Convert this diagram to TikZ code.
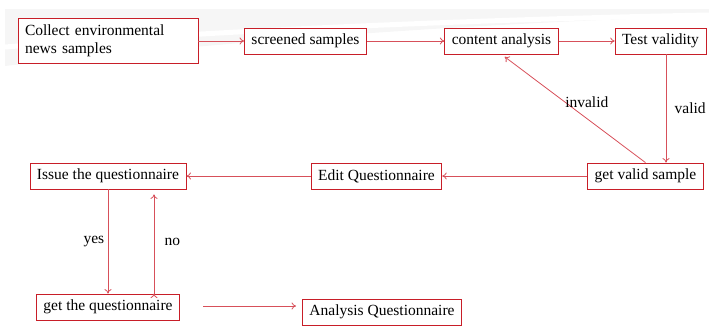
\documentclass[tikz,border=0pt]{standalone}
\usepackage{fontspec}
\setmainfont{Liberation Serif}
\usetikzlibrary{positioning,arrows.meta}
\definecolor{boxred}{RGB}{200,30,40}
\definecolor{linered}{RGB}{215,80,90}
\tikzset{step node/.style={rectangle,draw=boxred,line width=0.8pt,fill=white,inner xsep=7pt,minimum height=26pt,font=\rmfamily\fontsize{15.5}{18}\selectfont} }
\tikzset{flow/.style={draw=linered,line width=0.8pt,-{To[length=4.5pt,width=7pt]}} }

\begin{document}
\begin{tikzpicture}[x=1pt,y=-1pt]
\useasboundingbox (0,0) rectangle (709,325);
% grey swoosh in the background
\fill[gray!7] (5,9) -- (709,9) -- (709,16) .. controls (450,24) and (200,44) .. (5,66) -- cycle;
\draw[white,line width=5pt] (5,47) .. controls (200,32) and (450,20) .. (709,15);
\begin{scope}[on grid]

  \node[step node,text width=166pt,align=left,minimum height=45pt] (collect) at (108,41) {Collect environmental\\news samples};
  \node[step node] (screened) [right=197.5pt of collect] {screened samples};
  \node[step node] (content) [right=196pt of screened] {content analysis};
  \node[step node] (test) [right=159pt of content] {Test validity};
  \node[step node] (validsample) [below left=135pt and 15pt of test] {get valid sample};
  \node[step node] (edit) [left=269pt of validsample] {Edit Questionnaire};
  \node[step node] (issue) [left=268.5pt of edit] {Issue the questionnaire};
  \node[step node] (getq) [below=131pt of issue] {get the questionnaire};
  \node[step node] (analysis) [below right=5pt and 274pt of getq] {Analysis Questionnaire};
  \coordinate (qstart) at ([xshift=95pt,yshift=1pt]getq.center);

  \path[flow,every node/.style={font=\rmfamily\fontsize{15.5}{18}\selectfont}]
    (collect) edge (screened)
    (screened) edge (content)
    (content) edge (test)
    ([xshift=5.5pt]test.south) edge node[right=5pt] {valid} ([xshift=5.5pt]test.south |- validsample.north)
    (validsample.north) edge[shorten >=4pt] node[pos=0.56,anchor=west,inner sep=0pt] {invalid} (content.south)
    (validsample) edge (edit)
    (edit) edge (issue)
    (issue.south) edge node[left=0pt] {yes} (issue.south |- getq.north)
    ([xshift=46pt]getq.north) edge[shorten >=5pt] node[right=7pt] {no} ([xshift=46pt]getq.north |- issue.south)
    ;
  \draw[flow,shorten >=6pt] (qstart) -- (qstart -| analysis.west);
\end{scope}
\end{tikzpicture}
\end{document}
